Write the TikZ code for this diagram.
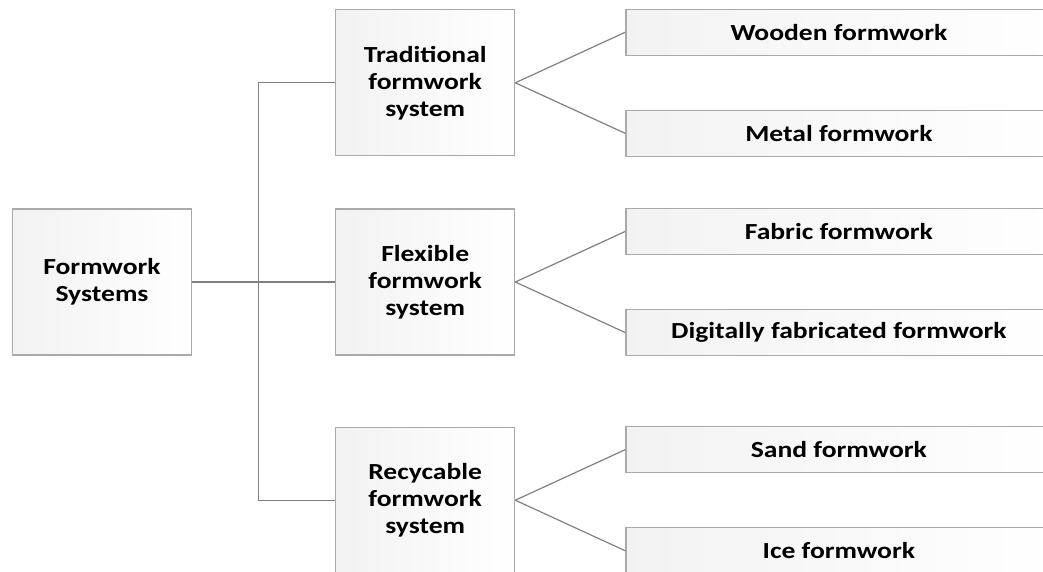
\documentclass[tikz,border=0pt]{standalone}
\usepackage{fontspec}
\newfontfamily\boxfont{Carlito}[FakeStretch=1.2]
\usepackage{tikz}
\usetikzlibrary{positioning}
\definecolor{boxline}{RGB}{170,170,170}
\definecolor{linkgray}{RGB}{128,128,128}

\begin{document}
\begin{tikzpicture}[x=1pt, y=-1pt,
    every node/.style={align=center, font=\boxfont\bfseries\fontsize{23}{27}\selectfont},
    cat/.style={draw=boxline, line width=1.2pt, left color=black!5, right color=white,
                minimum width=179pt, minimum height=146pt, inner sep=0pt},
    leaf/.style={draw=boxline, line width=1.2pt, left color=black!5, right color=white,
                 minimum width=426pt, minimum height=46pt, inner sep=0pt},
    link/.style={draw=linkgray, line width=1.2pt}
  ]
    \useasboundingbox (0,0) rectangle (1043,571);

    \node[cat] (root) at (102,282) {Formwork\\ Systems};
    \node[cat, right=143pt of root] (flex) {Flexible\\ formwork\\ system};
    \node[cat, above=52pt of flex]  (trad) {Traditional\\ formwork\\ system};
    \node[cat, below=71pt of flex]  (recy) {Recycable\\ formwork\\ system};

    \node[leaf, above right=27pt and 110pt of trad.east] (wood)  {Wooden formwork};
    \node[leaf, below right=27pt and 110pt of trad.east] (metal) {Metal formwork};
    \node[leaf, above right=27pt and 110pt of flex.east] (fabric) {Fabric formwork};
    \node[leaf, below right=27pt and 110pt of flex.east] (digi)  {Digitally fabricated formwork};
    \node[leaf, above right=27pt and 110pt of recy.east] (sand)  {Sand formwork};
    \node[leaf, below right=27pt and 110pt of recy.east] (ice)   {Ice formwork};

    \coordinate[right=66pt of root.east] (trunk);

    \draw[link] (root.east) -- (flex.west);
    \draw[link] (trad.west) -| (trunk) |- (recy.west);

    \draw[link] (trad.east) -- (wood.west);
    \draw[link] (trad.east) -- (metal.west);
    \draw[link] (flex.east) -- (fabric.west);
    \draw[link] (flex.east) -- (digi.west);
    \draw[link] (recy.east) -- (sand.west);
    \draw[link] (recy.east) -- (ice.west);
  \end{tikzpicture}
\end{document}
